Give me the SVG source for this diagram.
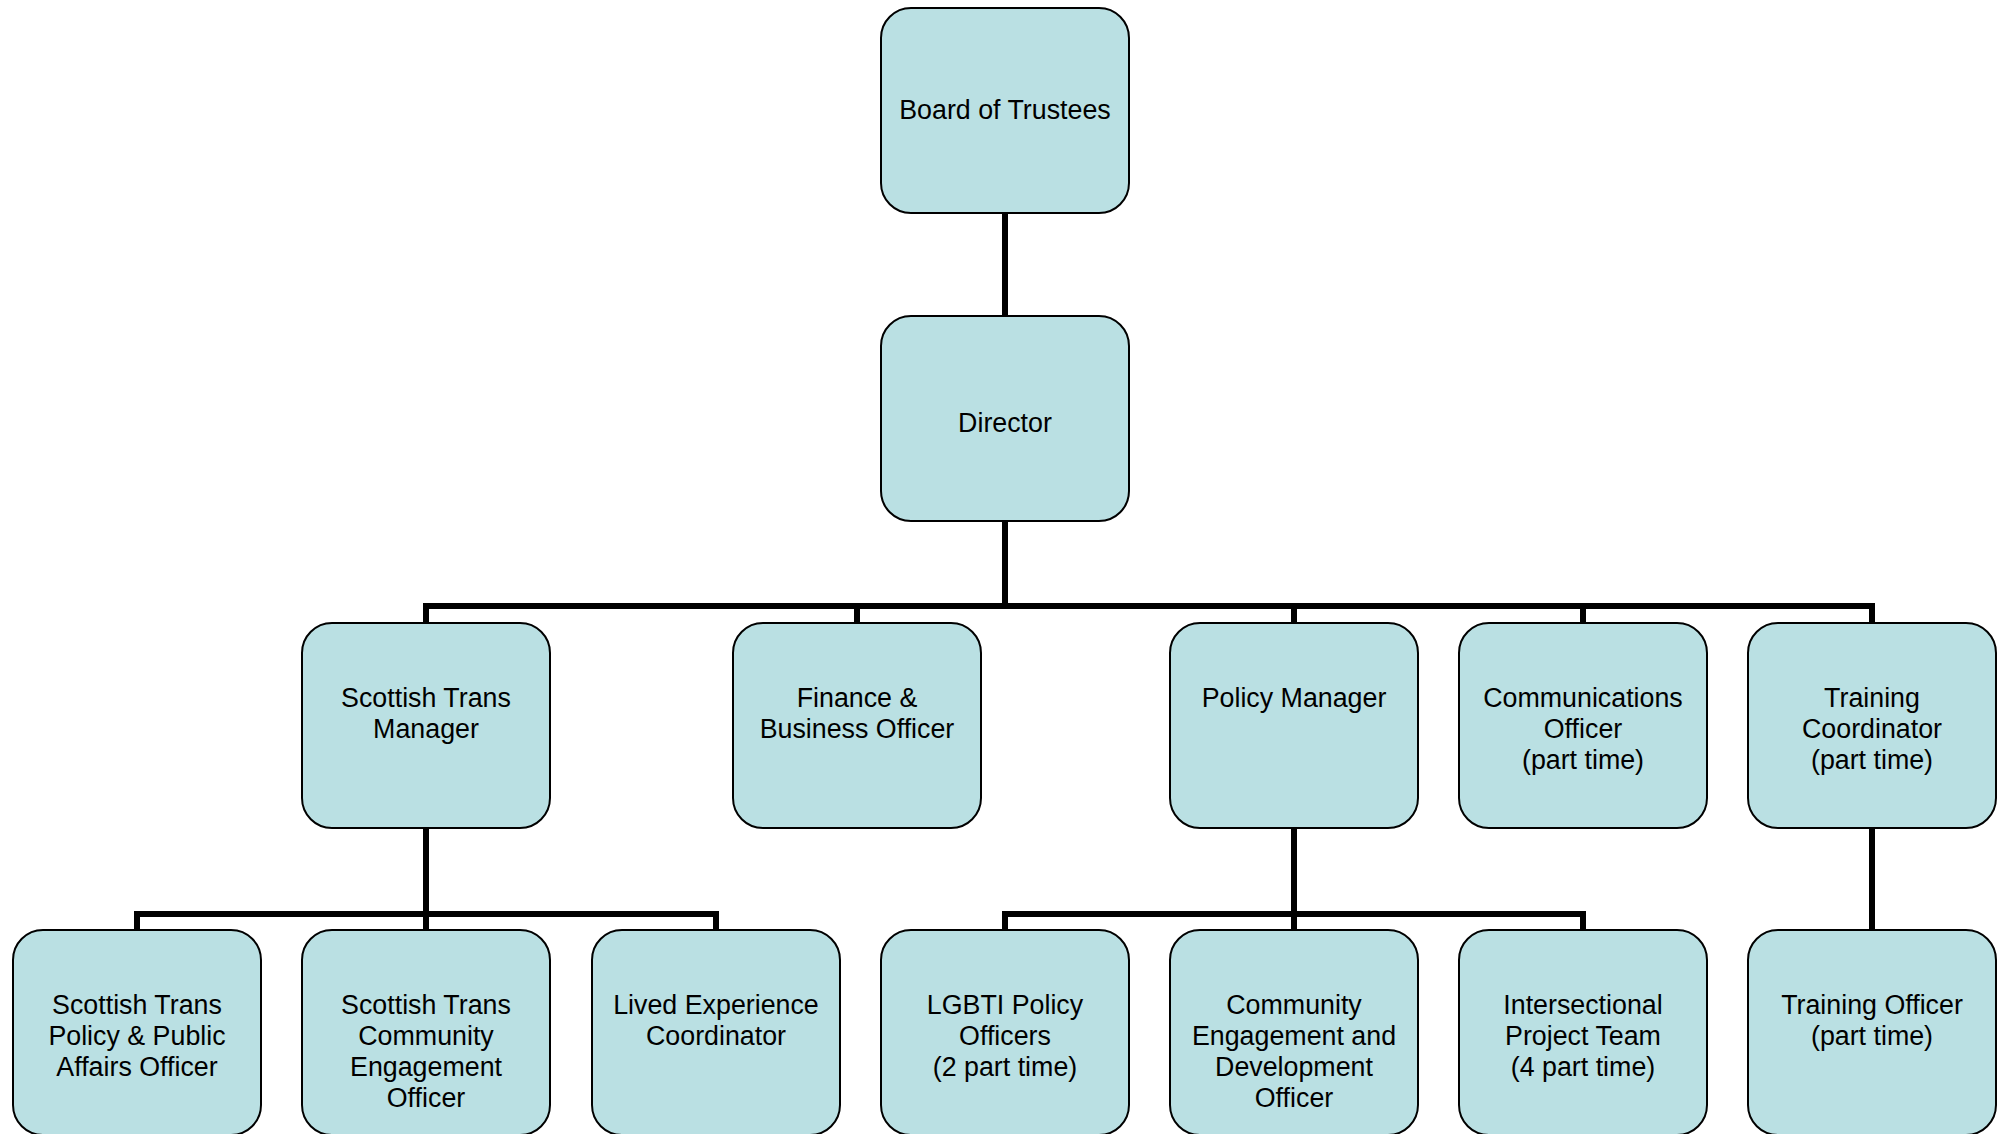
<svg xmlns="http://www.w3.org/2000/svg" width="2002" height="1134" viewBox="0 0 2002 1134">
<style>
.box{fill:#bae0e3;stroke:#000;stroke-width:2}
.lbl{font-family:"Liberation Sans",Arial,sans-serif;font-size:26.8px;fill:#000;text-anchor:middle}
.conn{fill:none;stroke:#000;stroke-width:6;stroke-linejoin:miter;stroke-linecap:butt}
</style>
<rect width="2002" height="1134" fill="#fff"/>
<g id="connectors" class="conn">
<path d="M1005 213V316"/>
<path d="M1005 521V606"/>
<path d="M426 623V606H1872V623"/>
<path d="M857 606V623"/>
<path d="M1294 606V623"/>
<path d="M1583 606V623"/>
<path d="M426 828V914"/>
<path d="M137 930V914H716V930"/>
<path d="M426 914V930"/>
<path d="M1294 828V914"/>
<path d="M1005 930V914H1583V930"/>
<path d="M1294 914V930"/>
<path d="M1872 828V930"/>
</g>
<g id="board"><rect class="box" x="881" y="8" width="248" height="205" rx="30"/><text class="lbl" x="1005" y="119">Board of Trustees</text></g>
<g id="director"><rect class="box" x="881" y="316" width="248" height="205" rx="30"/><text class="lbl" x="1005" y="432">Director</text></g>
<g id="scottish-trans-manager"><rect class="box" x="302" y="623" width="248" height="205" rx="30"/><text class="lbl" x="426" y="707">Scottish Trans<tspan x="426" dy="31">Manager</tspan></text></g>
<g id="finance"><rect class="box" x="733" y="623" width="248" height="205" rx="30"/><text class="lbl" x="857" y="707">Finance &amp;<tspan x="857" dy="31">Business Officer</tspan></text></g>
<g id="policy-manager"><rect class="box" x="1170" y="623" width="248" height="205" rx="30"/><text class="lbl" x="1294" y="707">Policy Manager</text></g>
<g id="communications"><rect class="box" x="1459" y="623" width="248" height="205" rx="30"/><text class="lbl" x="1583" y="707">Communications<tspan x="1583" dy="31">Officer</tspan><tspan x="1583" dy="31">(part time)</tspan></text></g>
<g id="training-coordinator"><rect class="box" x="1748" y="623" width="248" height="205" rx="30"/><text class="lbl" x="1872" y="707">Training<tspan x="1872" dy="31">Coordinator</tspan><tspan x="1872" dy="31">(part time)</tspan></text></g>
<g id="st-policy-officer"><rect class="box" x="13" y="930" width="248" height="205" rx="30"/><text class="lbl" x="137" y="1014">Scottish Trans<tspan x="137" dy="31">Policy &amp; Public</tspan><tspan x="137" dy="31">Affairs Officer</tspan></text></g>
<g id="st-community-officer"><rect class="box" x="302" y="930" width="248" height="205" rx="30"/><text class="lbl" x="426" y="1014">Scottish Trans<tspan x="426" dy="31">Community</tspan><tspan x="426" dy="31">Engagement</tspan><tspan x="426" dy="31">Officer</tspan></text></g>
<g id="lived-experience"><rect class="box" x="592" y="930" width="248" height="205" rx="30"/><text class="lbl" x="716" y="1014">Lived Experience<tspan x="716" dy="31">Coordinator</tspan></text></g>
<g id="lgbti-policy"><rect class="box" x="881" y="930" width="248" height="205" rx="30"/><text class="lbl" x="1005" y="1014">LGBTI Policy<tspan x="1005" dy="31">Officers</tspan><tspan x="1005" dy="31">(2 part time)</tspan></text></g>
<g id="community-engagement"><rect class="box" x="1170" y="930" width="248" height="205" rx="30"/><text class="lbl" x="1294" y="1014">Community<tspan x="1294" dy="31">Engagement and</tspan><tspan x="1294" dy="31">Development</tspan><tspan x="1294" dy="31">Officer</tspan></text></g>
<g id="intersectional"><rect class="box" x="1459" y="930" width="248" height="205" rx="30"/><text class="lbl" x="1583" y="1014">Intersectional<tspan x="1583" dy="31">Project Team</tspan><tspan x="1583" dy="31">(4 part time)</tspan></text></g>
<g id="training-officer"><rect class="box" x="1748" y="930" width="248" height="205" rx="30"/><text class="lbl" x="1872" y="1014">Training Officer<tspan x="1872" dy="31">(part time)</tspan></text></g>
</svg>
